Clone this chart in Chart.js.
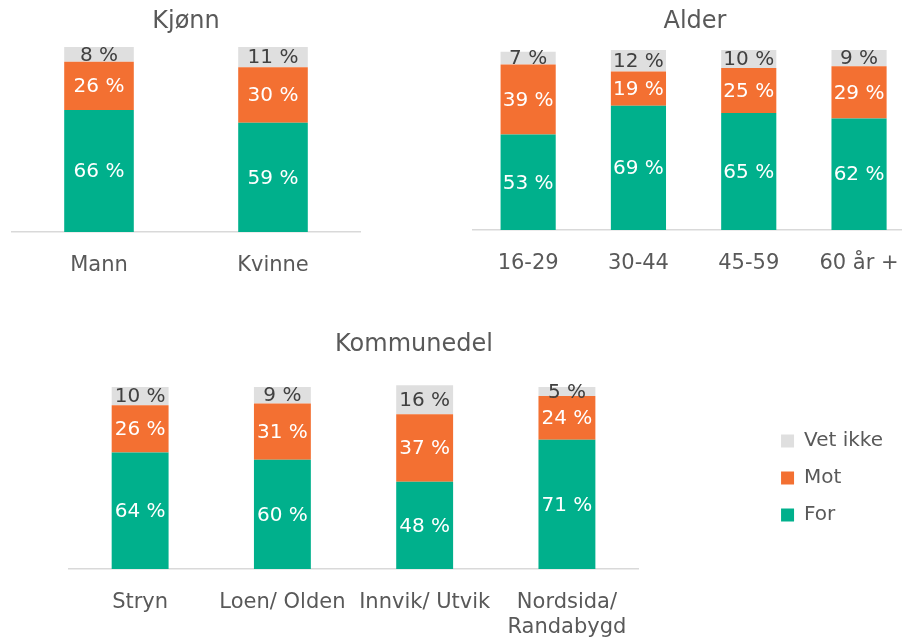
<!DOCTYPE html>
<html><head><meta charset="utf-8">
<script src="https://cdn.jsdelivr.net/npm/chart.js@4"></script>
<style>
html,body{margin:0;padding:0;background:#fff;overflow:hidden;width:902px;height:640px;position:relative}
canvas{position:absolute}
</style></head><body>
<canvas id="c1" width="440" height="300" style="left:0;top:0"></canvas>
<canvas id="c2" width="480" height="300" style="left:440px;top:0"></canvas>
<canvas id="c3" width="976" height="320" style="left:-74px;top:320px"></canvas>
<script>
const seriesNames = ['For', 'Mot', 'Vet ikke'];
const titles = ['Kjønn', 'Alder', 'Kommunedel'];

const genderCategories = ['Mann', 'Kvinne'];
const genderFor = [66, 59];
const genderMot = [26, 30];
const genderVetIkke = [8, 11];

const ageCategories = ['16-29', '30-44', '45-59', '60 år +'];
const ageFor = [53, 69, 65, 62];
const ageMot = [39, 19, 25, 29];
const ageVetIkke = [7, 12, 10, 9];

const areaCategories = ['Stryn', 'Loen/ Olden', 'Innvik/ Utvik', ['Nordsida/', 'Randabygd']];
const areaFor = [64, 60, 48, 71];
const areaMot = [26, 31, 37, 24];
const areaVetIkke = [10, 9, 16, 5];

const COLORS = ['#00B08C', '#F37032', '#DFDFDF'];
const LABEL_COLORS = ['#FFFFFF', '#FFFFFF', '#404040'];
const TEXT = '#595959';
const FONT = '"DejaVu Sans", sans-serif';

Chart.defaults.font.family = FONT;
Chart.defaults.color = TEXT;

function makeDatasets(f, m, v) {
  return [f, m, v].map((d, i) => ({
    label: seriesNames[i], data: d, backgroundColor: COLORS[i],
    labelColor: LABEL_COLORS[i], clip: false
  }));
}

const valueLabels = {
  id: 'valueLabels',
  afterDatasetsDraw(chart) {
    const ctx = chart.ctx;
    ctx.save();
    ctx.font = '20px ' + FONT;
    ctx.textAlign = 'center';
    ctx.textBaseline = 'middle';
    chart.data.datasets.forEach((ds, i) => {
      const meta = chart.getDatasetMeta(i);
      meta.data.forEach((bar, j) => {
        const p = bar.getProps(['x', 'y', 'base'], true);
        ctx.fillStyle = ds.labelColor;
        ctx.fillText(ds.data[j] + ' %', p.x, (p.y + p.base) / 2 + 1);
      });
    });
    ctx.restore();
  }
};

function xAxis(h) {
  return {
    stacked: true,
    grid: { display: false, drawTicks: false },
    border: { display: true, color: '#D9D9D9', width: 1.5 },
    ticks: { padding: 21, font: { size: 21, lineHeight: 1.2 }, color: TEXT, maxRotation: 0, autoSkip: false },
    afterFit(s) { s.height = h; }
  };
}

function titleOpt(text, top, bottom) {
  return { display: true, text, color: TEXT, font: { size: 24, weight: 'normal', lineHeight: 1.2 }, padding: { top, bottom } };
}

new Chart(document.getElementById('c1'), {
  type: 'bar',
  data: { labels: genderCategories, datasets: makeDatasets(genderFor, genderMot, genderVetIkke) },
  options: {
    responsive: false, animation: false,
    layout: { padding: { left: 12, right: 80, top: 0, bottom: 8 } },
    datasets: { bar: { barPercentage: 0.4, categoryPercentage: 1 } },
    plugins: { legend: { display: false }, tooltip: { enabled: false }, title: titleOpt(titles[0], 7.6, 10.6) },
    scales: { x: xAxis(60), y: { stacked: true, display: false, min: 0, max: 100 } }
  },
  plugins: [valueLabels]
});

new Chart(document.getElementById('c2'), {
  type: 'bar',
  data: { labels: ageCategories, datasets: makeDatasets(ageFor, ageMot, ageVetIkke) },
  options: {
    responsive: false, animation: false,
    layout: { padding: { left: 33, right: 3, top: 0, bottom: 10 } },
    datasets: { bar: { barPercentage: 0.5, categoryPercentage: 1 } },
    plugins: { legend: { display: false }, tooltip: { enabled: false }, title: titleOpt(titles[1], 7.6, 13.6) },
    scales: { x: xAxis(60), y: { stacked: true, display: false, min: 0, max: 100 } }
  },
  plugins: [valueLabels]
});

new Chart(document.getElementById('c3'), {
  type: 'bar',
  data: { labels: areaCategories, datasets: makeDatasets(areaFor, areaMot, areaVetIkke) },
  options: {
    responsive: false, animation: false,
    layout: { padding: { left: 9, right: 9, top: 0, bottom: 0 } },
    datasets: { bar: { barPercentage: 0.4, categoryPercentage: 1 } },
    plugins: {
      tooltip: { enabled: false },
      title: titleOpt(titles[2], 10.6, 27.6),
      legend: {
        display: true, position: 'right', reverse: true, fullSize: false,
        labels: { boxWidth: 13, boxHeight: 13, padding: 17, color: TEXT, font: { size: 20 } }
      }
    },
    scales: {
      x: xAxis(71),
      y: { stacked: true, display: true, position: 'left', min: 0, max: 100,
           ticks: { display: false }, grid: { display: false }, border: { display: false },
           afterFit(s) { s.width = 134; } },
      y2: { type: 'linear', display: true, position: 'right', min: 0, max: 1,
            ticks: { display: false }, grid: { display: false }, border: { display: false },
            afterFit(s) { s.width = 126; } }
    }
  },
  plugins: [valueLabels]
});
</script>
</body></html>
